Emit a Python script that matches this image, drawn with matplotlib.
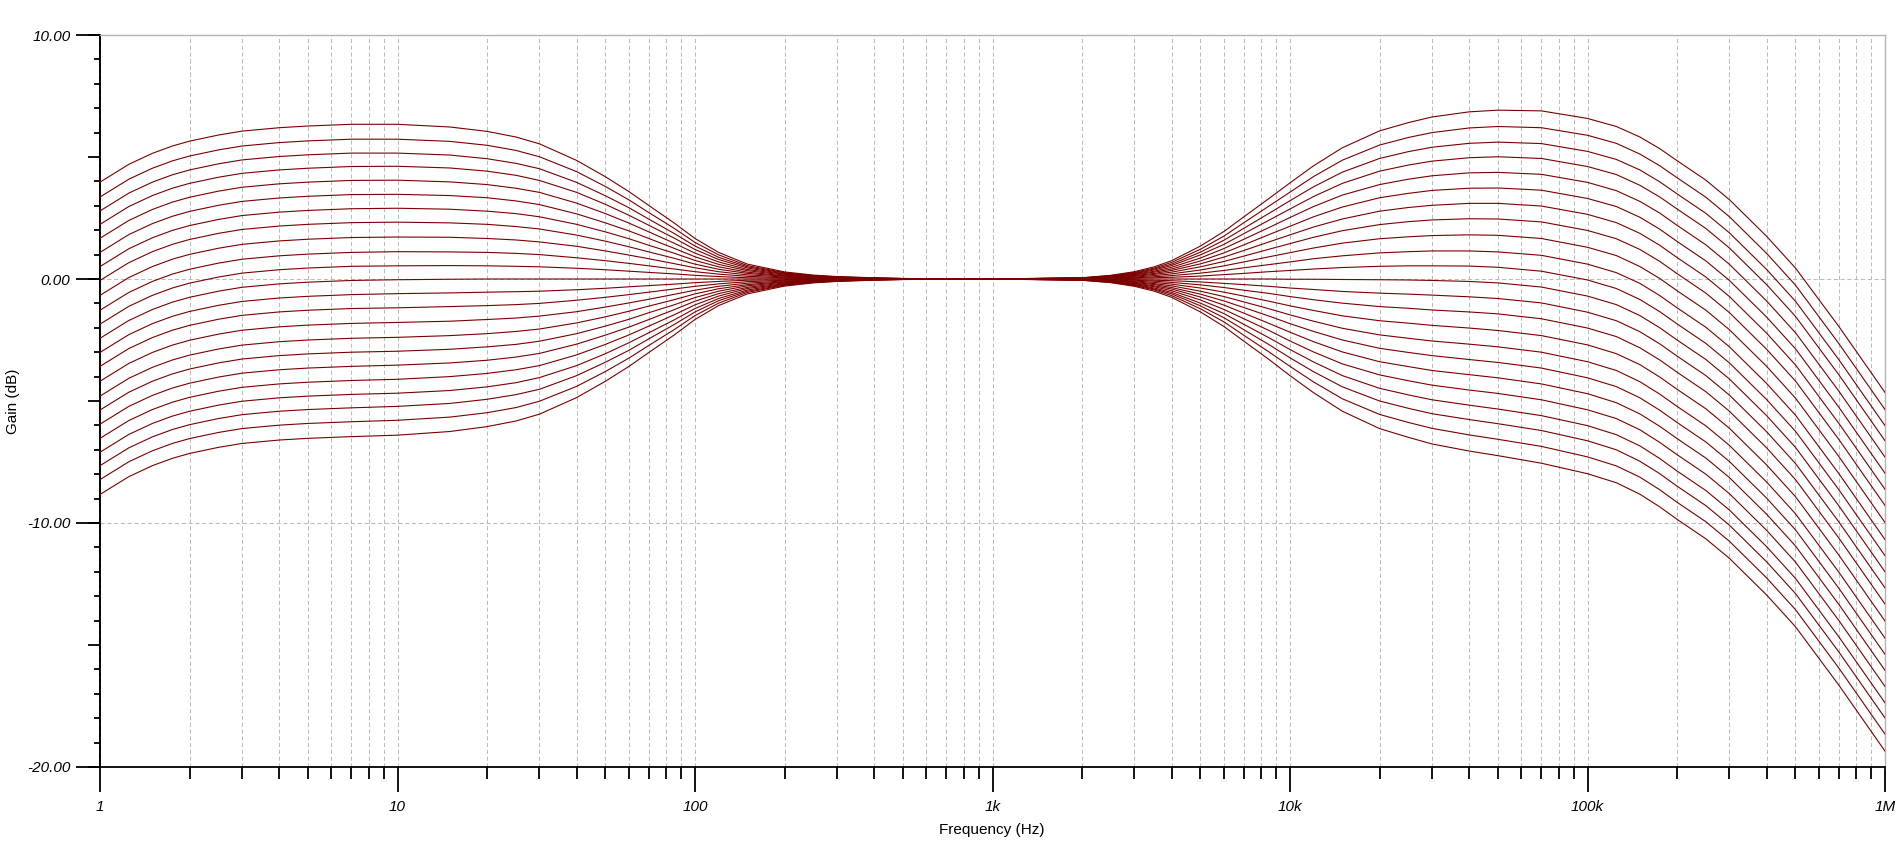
import numpy as np
import matplotlib.pyplot as plt
from matplotlib.ticker import FixedLocator, NullFormatter, FixedFormatter

plt.rcParams['font.family'] = ['Liberation Sans', 'DejaVu Sans']

# Fréquences de lecture (Hz) : partie graves puis partie aigus
freq_hz = [1, 1.25, 1.5, 1.75, 2, 2.5, 3, 4, 5, 7, 10, 15, 20, 25, 30, 40, 50, 60, 70, 85,
           100, 120, 150, 200, 250, 300, 400, 500, 1e3,
           2e3, 2.5e3, 3e3, 3.5e3, 4e3, 5e3, 6e3, 7e3, 8.5e3, 1e4, 1.2e4, 1.5e4, 2e4, 2.5e4, 3e4, 4e4, 5e4, 7e4,
           1e5, 1.25e5, 1.5e5, 1.75e5, 2e5, 2.5e5, 3e5, 4e5, 5e5, 7e5, 1e6]

# Gain (dB) pour chaque pas du potentiomètre, du haut vers le bas
step_p11 = [3.97, 4.70, 5.15, 5.45, 5.65, 5.90, 6.06, 6.20, 6.27, 6.34, 6.34, 6.23, 6.05, 5.82, 5.54, 4.86, 4.19, 3.58, 3.01, 2.30,
            1.66, 1.09, 0.61, 0.29, 0.16, 0.10, 0.05, 0.02, 0,
            0.05, 0.15, 0.30, 0.50, 0.75, 1.35, 1.95, 2.55, 3.30, 3.94, 4.64, 5.38, 6.07, 6.41, 6.64, 6.85, 6.92, 6.89,
            6.58, 6.25, 5.82, 5.34, 4.85, 4.05, 3.25, 1.75, 0.45, -1.95, -4.65]
step_p10 = [3.36, 4.09, 4.54, 4.84, 5.04, 5.29, 5.45, 5.59, 5.66, 5.73, 5.73, 5.64, 5.48, 5.27, 5.01, 4.40, 3.79, 3.24, 2.72, 2.08,
            1.50, 0.99, 0.55, 0.26, 0.14, 0.09, 0.04, 0.02, 0,
            0.05, 0.14, 0.27, 0.45, 0.68, 1.22, 1.76, 2.31, 2.99, 3.56, 4.20, 4.87, 5.49, 5.80, 6.00, 6.19, 6.25, 6.20,
            5.89, 5.56, 5.12, 4.64, 4.15, 3.35, 2.55, 1.05, -0.25, -2.65, -5.35]
step_p9 = [2.79, 3.52, 3.97, 4.27, 4.47, 4.72, 4.88, 5.02, 5.09, 5.16, 5.16, 5.08, 4.93, 4.74, 4.52, 3.96, 3.41, 2.92, 2.45, 1.87,
           1.35, 0.89, 0.50, 0.24, 0.13, 0.08, 0.04, 0.02, 0,
           0.04, 0.12, 0.24, 0.41, 0.61, 1.10, 1.59, 2.08, 2.69, 3.21, 3.78, 4.38, 4.94, 5.22, 5.40, 5.56, 5.61, 5.55,
           5.23, 4.90, 4.47, 3.98, 3.49, 2.69, 1.89, 0.39, -0.91, -3.31, -6.01]
step_p8 = [2.24, 2.97, 3.42, 3.72, 3.92, 4.17, 4.33, 4.47, 4.54, 4.61, 4.62, 4.55, 4.42, 4.25, 4.04, 3.55, 3.06, 2.61, 2.20, 1.68,
           1.21, 0.80, 0.45, 0.21, 0.12, 0.07, 0.03, 0.01, 0,
           0.04, 0.11, 0.22, 0.37, 0.55, 0.99, 1.42, 1.86, 2.41, 2.87, 3.38, 3.92, 4.42, 4.67, 4.83, 4.97, 5.01, 4.94,
           4.61, 4.28, 3.84, 3.36, 2.87, 2.07, 1.27, -0.23, -1.53, -3.93, -6.63]
step_p7 = [1.67, 2.40, 2.85, 3.15, 3.35, 3.60, 3.76, 3.90, 3.97, 4.04, 4.05, 3.98, 3.87, 3.72, 3.55, 3.11, 2.68, 2.29, 1.93, 1.47,
           1.06, 0.70, 0.39, 0.19, 0.10, 0.06, 0.03, 0.01, 0,
           0.03, 0.10, 0.19, 0.32, 0.48, 0.86, 1.25, 1.63, 2.11, 2.52, 2.97, 3.44, 3.87, 4.09, 4.23, 4.35, 4.37, 4.29,
           3.96, 3.62, 3.18, 2.70, 2.20, 1.40, 0.60, -0.90, -2.20, -4.60, -7.30]
step_p6 = [1.09, 1.82, 2.27, 2.57, 2.77, 3.02, 3.18, 3.32, 3.39, 3.46, 3.47, 3.42, 3.33, 3.20, 3.05, 2.67, 2.30, 1.97, 1.66, 1.26,
           0.91, 0.60, 0.34, 0.16, 0.09, 0.06, 0.02, 0.01, 0,
           0.03, 0.08, 0.17, 0.28, 0.41, 0.74, 1.07, 1.40, 1.82, 2.16, 2.55, 2.95, 3.33, 3.51, 3.63, 3.72, 3.73, 3.64,
           3.30, 2.97, 2.53, 2.04, 1.54, 0.74, -0.06, -1.56, -2.86, -5.26, -7.96]
step_p5 = [0.51, 1.24, 1.69, 1.99, 2.19, 2.44, 2.60, 2.74, 2.81, 2.88, 2.90, 2.86, 2.78, 2.68, 2.55, 2.24, 1.93, 1.65, 1.38, 1.06,
           0.76, 0.50, 0.28, 0.13, 0.07, 0.05, 0.02, 0.01, 0,
           0.02, 0.07, 0.14, 0.23, 0.35, 0.62, 0.90, 1.17, 1.52, 1.81, 2.13, 2.46, 2.78, 2.93, 3.02, 3.10, 3.10, 2.99,
           2.65, 2.31, 1.87, 1.38, 0.88, 0.08, -0.72, -2.22, -3.52, -5.92, -8.62]
step_p4 = [-0.06, 0.67, 1.12, 1.42, 1.62, 1.87, 2.03, 2.17, 2.24, 2.31, 2.33, 2.30, 2.24, 2.15, 2.05, 1.80, 1.55, 1.32, 1.11, 0.85,
           0.61, 0.40, 0.23, 0.11, 0.06, 0.04, 0.02, 0.01, 0,
           0.02, 0.06, 0.11, 0.19, 0.28, 0.50, 0.72, 0.94, 1.22, 1.45, 1.71, 1.98, 2.23, 2.35, 2.42, 2.47, 2.46, 2.34,
           1.99, 1.65, 1.21, 0.72, 0.22, -0.58, -1.38, -2.88, -4.18, -6.58, -9.28]
step_p3 = [-0.67, 0.06, 0.51, 0.81, 1.01, 1.26, 1.42, 1.56, 1.63, 1.70, 1.72, 1.71, 1.66, 1.60, 1.52, 1.34, 1.15, 0.98, 0.83, 0.63,
           0.46, 0.30, 0.17, 0.08, 0.04, 0.03, 0.01, 0.01, 0,
           0.01, 0.04, 0.08, 0.14, 0.21, 0.37, 0.54, 0.70, 0.91, 1.08, 1.27, 1.47, 1.65, 1.73, 1.78, 1.81, 1.79, 1.66,
           1.30, 0.96, 0.51, 0.02, -0.48, -1.28, -2.08, -3.58, -4.88, -7.28, -9.98]
step_p2 = [-1.28, -0.55, -0.10, 0.20, 0.40, 0.65, 0.81, 0.95, 1.02, 1.09, 1.12, 1.11, 1.09, 1.05, 1.00, 0.87, 0.75, 0.64, 0.54, 0.41,
           0.30, 0.20, 0.11, 0.05, 0.03, 0.02, 0.01, 0, 0,
           0.01, 0.03, 0.05, 0.09, 0.14, 0.24, 0.35, 0.46, 0.59, 0.70, 0.83, 0.95, 1.07, 1.12, 1.15, 1.15, 1.11, 0.97,
           0.61, 0.26, -0.18, -0.68, -1.18, -1.98, -2.78, -4.28, -5.58, -7.98, -10.68]
step_p1 = [-1.85, -1.12, -0.67, -0.37, -0.17, 0.08, 0.24, 0.38, 0.45, 0.52, 0.54, 0.55, 0.54, 0.52, 0.50, 0.44, 0.38, 0.32, 0.27, 0.21,
           0.15, 0.10, 0.05, 0.03, 0.01, 0.01, 0, 0, 0,
           0, 0.01, 0.03, 0.05, 0.07, 0.12, 0.18, 0.23, 0.30, 0.35, 0.41, 0.47, 0.52, 0.54, 0.54, 0.53, 0.48, 0.32,
           -0.04, -0.39, -0.84, -1.34, -1.84, -2.64, -3.44, -4.94, -6.24, -8.64, -11.34]
step_0 = [-2.43, -1.70, -1.25, -0.95, -0.75, -0.50, -0.34, -0.20, -0.13, -0.06, -0.03, -0.01, 0, 0, 0, 0, 0, 0, 0, 0,
          0, 0, 0, 0, 0, 0, 0, 0, 0,
          0, 0, 0, 0, 0, 0, 0, 0, 0, -0.01, -0.01, -0.02, -0.03, -0.04, -0.06, -0.10, -0.16, -0.33,
          -0.70, -1.05, -1.50, -2.00, -2.50, -3.30, -4.10, -5.60, -6.90, -9.30, -12.00]
step_m1 = [-3.01, -2.28, -1.83, -1.53, -1.33, -1.08, -0.92, -0.78, -0.71, -0.64, -0.60, -0.57, -0.54, -0.52, -0.50, -0.44, -0.38, -0.32, -0.27, -0.21,
           -0.15, -0.10, -0.05, -0.03, -0.01, -0.01, 0, 0, 0,
           0, -0.01, -0.03, -0.05, -0.07, -0.12, -0.18, -0.23, -0.30, -0.37, -0.43, -0.51, -0.58, -0.62, -0.66, -0.73, -0.80, -0.98,
           -1.36, -1.71, -2.16, -2.66, -3.16, -3.96, -4.76, -6.26, -7.56, -9.96, -12.66]
step_m2 = [-3.58, -2.85, -2.40, -2.10, -1.90, -1.65, -1.49, -1.35, -1.28, -1.21, -1.18, -1.13, -1.09, -1.05, -1.00, -0.87, -0.75, -0.64, -0.54, -0.41,
           -0.30, -0.20, -0.11, -0.05, -0.03, -0.02, -0.01, 0, 0,
           -0.01, -0.03, -0.05, -0.09, -0.14, -0.24, -0.35, -0.46, -0.59, -0.72, -0.85, -0.99, -1.13, -1.20, -1.27, -1.35, -1.43, -1.63,
           -2.01, -2.36, -2.82, -3.32, -3.82, -4.62, -5.42, -6.92, -8.22, -10.62, -13.32]
step_m3 = [-4.19, -3.46, -3.01, -2.71, -2.51, -2.26, -2.10, -1.96, -1.89, -1.82, -1.78, -1.73, -1.66, -1.60, -1.52, -1.34, -1.15, -0.98, -0.83, -0.63,
           -0.46, -0.30, -0.17, -0.08, -0.04, -0.03, -0.01, -0.01, 0,
           -0.01, -0.04, -0.08, -0.14, -0.21, -0.37, -0.54, -0.70, -0.91, -1.10, -1.29, -1.51, -1.71, -1.81, -1.90, -2.01, -2.11, -2.32,
           -2.70, -3.06, -3.51, -4.02, -4.52, -5.32, -6.12, -7.62, -8.92, -11.32, -14.02]
step_m4 = [-4.80, -4.07, -3.62, -3.32, -3.12, -2.87, -2.71, -2.57, -2.50, -2.43, -2.39, -2.32, -2.24, -2.15, -2.05, -1.80, -1.55, -1.32, -1.11, -0.85,
           -0.61, -0.40, -0.23, -0.11, -0.06, -0.04, -0.02, -0.01, 0,
           -0.02, -0.06, -0.11, -0.19, -0.28, -0.50, -0.72, -0.94, -1.22, -1.47, -1.73, -2.02, -2.29, -2.43, -2.54, -2.67, -2.78, -3.00,
           -3.39, -3.75, -4.21, -4.72, -5.22, -6.02, -6.82, -8.32, -9.62, -12.02, -14.72]
step_m5 = [-5.37, -4.64, -4.19, -3.89, -3.69, -3.44, -3.28, -3.14, -3.07, -3.00, -2.96, -2.88, -2.78, -2.68, -2.55, -2.24, -1.93, -1.65, -1.38, -1.06,
           -0.76, -0.50, -0.28, -0.13, -0.07, -0.05, -0.02, -0.01, 0,
           -0.02, -0.07, -0.14, -0.23, -0.35, -0.62, -0.90, -1.17, -1.52, -1.83, -2.15, -2.50, -2.84, -3.01, -3.14, -3.30, -3.42, -3.65,
           -4.05, -4.41, -4.87, -5.38, -5.88, -6.68, -7.48, -8.98, -10.28, -12.68, -15.38]
step_m6 = [-5.95, -5.22, -4.77, -4.47, -4.27, -4.02, -3.86, -3.72, -3.65, -3.58, -3.53, -3.44, -3.33, -3.20, -3.05, -2.67, -2.30, -1.97, -1.66, -1.26,
           -0.91, -0.60, -0.34, -0.16, -0.09, -0.06, -0.02, -0.01, 0,
           -0.03, -0.08, -0.17, -0.28, -0.41, -0.74, -1.07, -1.40, -1.82, -2.18, -2.57, -2.99, -3.39, -3.59, -3.75, -3.92, -4.05, -4.30,
           -4.70, -5.07, -5.53, -6.04, -6.54, -7.34, -8.14, -9.64, -10.94, -13.34, -16.04]
step_m7 = [-6.53, -5.80, -5.35, -5.05, -4.85, -4.60, -4.44, -4.30, -4.23, -4.16, -4.11, -4.00, -3.87, -3.72, -3.55, -3.11, -2.68, -2.29, -1.93, -1.47,
           -1.06, -0.70, -0.39, -0.19, -0.10, -0.06, -0.03, -0.01, 0,
           -0.03, -0.10, -0.19, -0.32, -0.48, -0.86, -1.25, -1.63, -2.11, -2.54, -2.99, -3.48, -3.93, -4.17, -4.35, -4.55, -4.69, -4.95,
           -5.36, -5.72, -6.18, -6.70, -7.20, -8.00, -8.80, -10.30, -11.60, -14.00, -16.70]
step_m8 = [-7.10, -6.37, -5.92, -5.62, -5.42, -5.17, -5.01, -4.87, -4.80, -4.73, -4.68, -4.57, -4.42, -4.25, -4.04, -3.55, -3.06, -2.61, -2.20, -1.68,
           -1.21, -0.80, -0.45, -0.21, -0.12, -0.07, -0.03, -0.01, 0,
           -0.04, -0.11, -0.22, -0.37, -0.55, -0.99, -1.42, -1.86, -2.41, -2.89, -3.40, -3.96, -4.48, -4.75, -4.95, -5.17, -5.33, -5.60,
           -6.01, -6.38, -6.84, -7.36, -7.87, -8.67, -9.47, -10.97, -12.27, -14.67, -17.37]
step_m9 = [-7.65, -6.92, -6.47, -6.17, -5.97, -5.72, -5.56, -5.42, -5.35, -5.28, -5.22, -5.10, -4.93, -4.74, -4.52, -3.96, -3.41, -2.92, -2.45, -1.87,
           -1.35, -0.89, -0.50, -0.24, -0.13, -0.08, -0.04, -0.02, 0,
           -0.04, -0.12, -0.24, -0.41, -0.61, -1.10, -1.59, -2.08, -2.69, -3.23, -3.80, -4.42, -5.00, -5.30, -5.52, -5.76, -5.93, -6.21,
           -6.63, -7.00, -7.47, -7.98, -8.49, -9.29, -10.09, -11.59, -12.89, -15.29, -17.99]
step_m10 = [-8.22, -7.49, -7.04, -6.74, -6.54, -6.29, -6.13, -5.99, -5.92, -5.85, -5.79, -5.66, -5.48, -5.27, -5.01, -4.40, -3.79, -3.24, -2.72, -2.08,
            -1.50, -0.99, -0.55, -0.26, -0.14, -0.09, -0.04, -0.02, 0,
            -0.05, -0.14, -0.27, -0.45, -0.68, -1.22, -1.76, -2.31, -2.99, -3.58, -4.22, -4.91, -5.55, -5.88, -6.12, -6.39, -6.57, -6.86,
            -7.29, -7.66, -8.12, -8.64, -9.15, -9.95, -10.75, -12.25, -13.55, -15.95, -18.65]
step_m11 = [-8.83, -8.10, -7.65, -7.35, -7.15, -6.90, -6.74, -6.60, -6.53, -6.46, -6.40, -6.25, -6.05, -5.82, -5.54, -4.86, -4.19, -3.58, -3.01, -2.30,
            -1.66, -1.09, -0.61, -0.29, -0.16, -0.10, -0.05, -0.02, 0,
            -0.05, -0.15, -0.30, -0.50, -0.75, -1.35, -1.95, -2.55, -3.30, -3.96, -4.66, -5.42, -6.13, -6.49, -6.76, -7.05, -7.24, -7.55,
            -7.98, -8.35, -8.82, -9.34, -9.85, -10.65, -11.45, -12.95, -14.25, -16.65, -19.35]

steps = [step_p11, step_p10, step_p9, step_p8, step_p7, step_p6, step_p5, step_p4, step_p3, step_p2, step_p1,
         step_0, step_m1, step_m2, step_m3, step_m4, step_m5, step_m6, step_m7, step_m8, step_m9, step_m10, step_m11]

x_labels = ['1', '10', '100', '1k', '10k', '100k', '1M']
y_labels = ['-20.00', '-10.00', '0.00', '10.00']

fig = plt.figure(figsize=(19.01, 8.5), dpi=100)
ax = fig.add_axes([100 / 1901, 1 - 767 / 850, 1785 / 1901, 732 / 850])

for g in steps:
    ax.plot(freq_hz, g, color='#7a0000', lw=0.8, zorder=3)

ax.set_xscale('log')
ax.set_xlim(1, 1e6)
ax.set_ylim(-20, 10)

# grille pointillée
grid_style = dict(color='#bcbcbc', lw=0.75, linestyle=(0, (4, 2.5)))
ax.grid(True, which='both', axis='x', **grid_style)
for yv in (-10, 0):
    ax.axhline(yv, zorder=1, **grid_style)

# axes
for s in ('left', 'bottom'):
    ax.spines[s].set_linewidth(1.3)
    ax.spines[s].set_color('black')
for s in ('top', 'right'):
    ax.spines[s].set_linewidth(1.0)
    ax.spines[s].set_color('#b4b4b4')

# graduations x
decades = [1, 10, 100, 1e3, 1e4, 1e5, 1e6]
ax.xaxis.set_major_locator(FixedLocator(decades))
ax.xaxis.set_major_formatter(FixedFormatter(x_labels))
ax.xaxis.set_minor_locator(FixedLocator([m * d for d in decades[:-1] for m in range(2, 10)]))
ax.xaxis.set_minor_formatter(NullFormatter())
ax.tick_params(axis='x', which='major', direction='out', length=18, width=1.3, pad=6,
               labelsize=11, top=False)
ax.tick_params(axis='x', which='minor', direction='out', length=8.6, width=1.3, top=False)
for t in ax.get_xticklabels():
    t.set_fontstyle('italic')

# graduations y : 1 dB, 5 dB, et 10 dB étiquetées
ax.yaxis.set_major_locator(FixedLocator(np.arange(-20, 11, 5)))
ax.yaxis.set_major_formatter(NullFormatter())
ax.yaxis.set_minor_locator(FixedLocator(np.arange(-20, 11, 1)))
ax.tick_params(axis='y', which='major', direction='out', length=8.6, width=1.3, right=False)
ax.tick_params(axis='y', which='minor', direction='out', length=4.3, width=1.3, right=False)

sec = ax.secondary_yaxis('left')
sec.set_yticks([-20, -10, 0, 10])
sec.set_yticklabels(y_labels, fontstyle='italic', fontsize=11)
sec.tick_params(axis='y', direction='out', length=17.3, width=1.3, pad=4)
sec.spines['left'].set_linewidth(1.3)

fig.text(13 / 1901, 1 - 401 / 850, 'Gain (dB)', rotation=90, ha='center', va='center', fontsize=11)
fig.text(992 / 1901, 1 - 830 / 850, 'Frequency (Hz)', ha='center', va='center', fontsize=11)

fig.savefig('out.png', dpi=100)
